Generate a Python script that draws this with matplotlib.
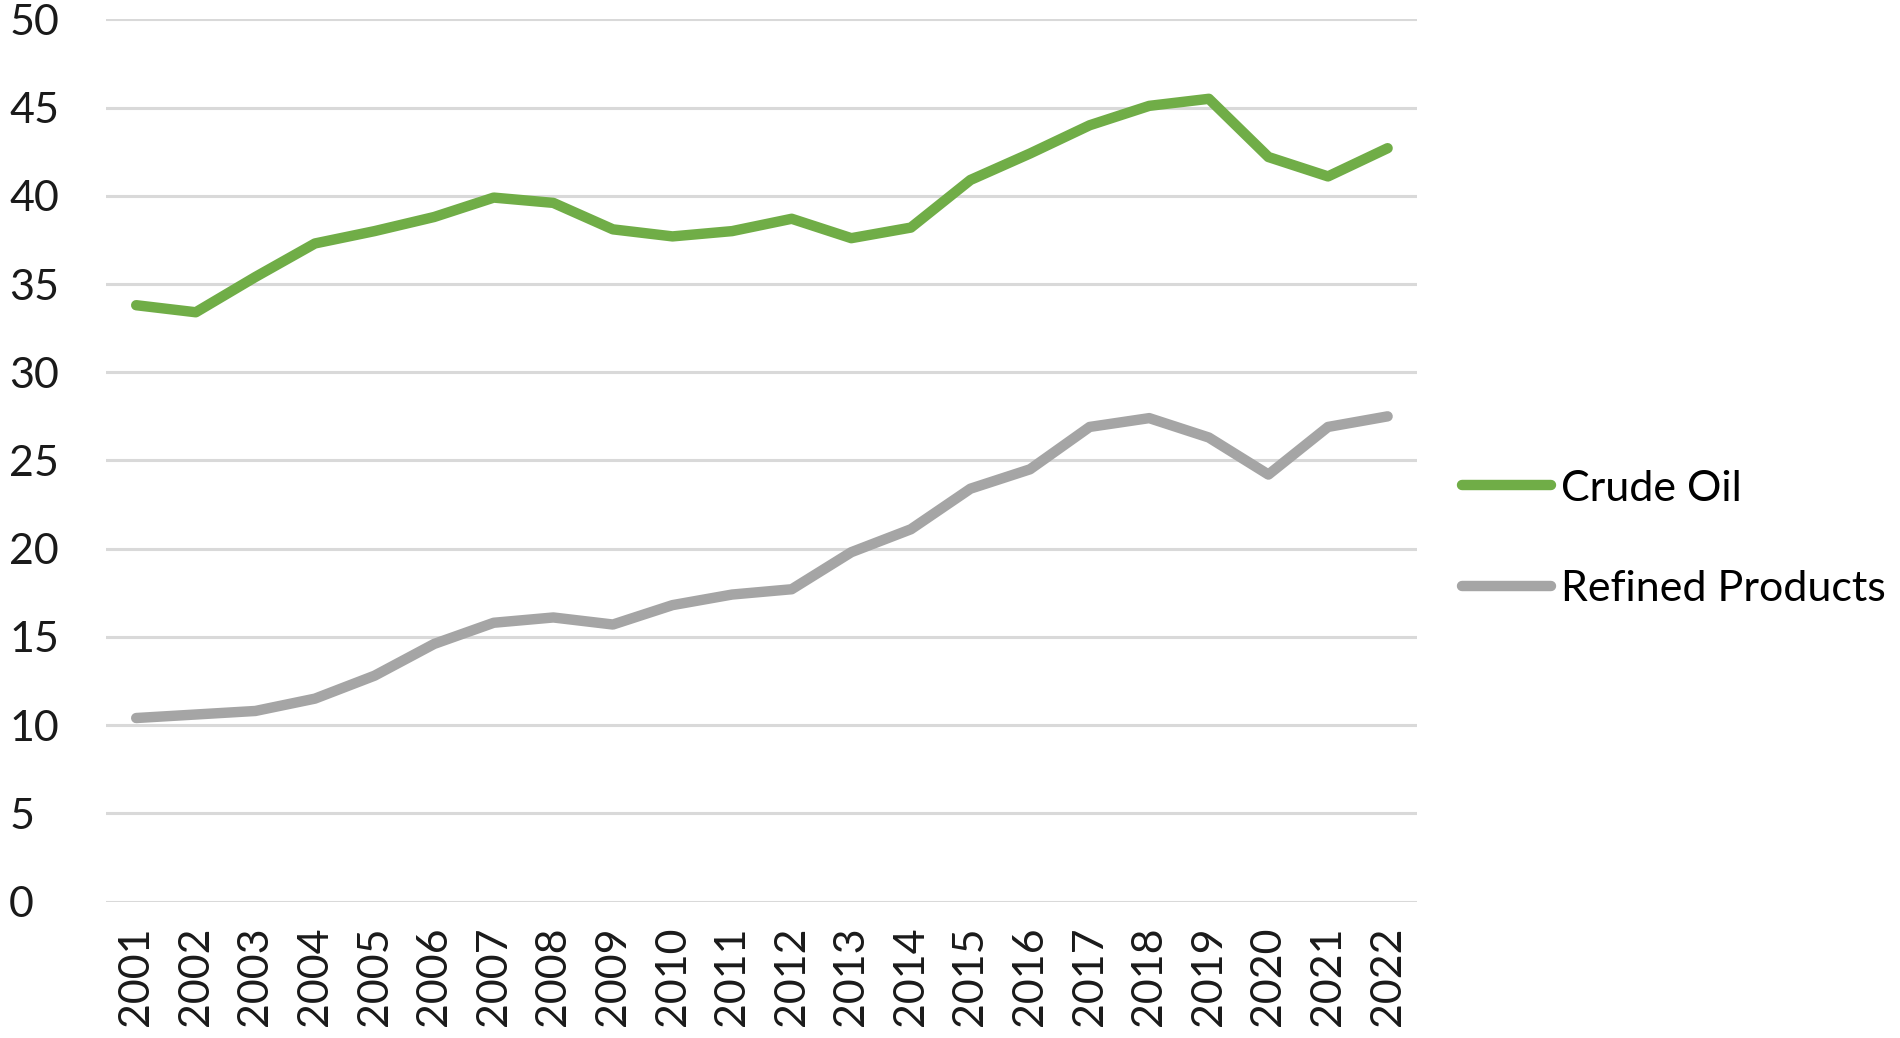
import matplotlib
matplotlib.use("Agg")
import matplotlib.pyplot as plt

years = [str(y) for y in range(2001, 2023)]
crude_oil = [33.8, 33.4, 35.4, 37.3, 38.0, 38.8, 39.9, 39.6, 38.1, 37.7, 38.0,
             38.7, 37.6, 38.2, 40.9, 42.4, 44.0, 45.1, 45.5, 42.2, 41.1, 42.7]
refined_products = [10.4, 10.6, 10.8, 11.5, 12.8, 14.6, 15.8, 16.1, 15.7, 16.8, 17.4,
                    17.7, 19.8, 21.1, 23.4, 24.5, 26.9, 27.4, 26.3, 24.2, 26.9, 27.5]
y_ticks = [0, 5, 10, 15, 20, 25, 30, 35, 40, 45, 50]

plt.rcParams['font.family'] = ['Lato', 'DejaVu Sans']

fig = plt.figure(figsize=(19, 10.38), dpi=100)
ax = fig.add_axes([0.056, 0.1315, 0.690, 0.8498])

x = list(range(len(years)))
ax.plot(x, crude_oil, color='#70AD47', lw=7.5, solid_capstyle='round',
        solid_joinstyle='round', label='Crude Oil', zorder=3)
ax.plot(x, refined_products, color='#A5A5A5', lw=7.5, solid_capstyle='round',
        solid_joinstyle='round', label='Refined Products', zorder=3)

ax.set_xlim(-0.5, len(years) - 0.5)
ax.set_ylim(0, 50)
ax.set_yticks(y_ticks)
ax.set_yticklabels([str(v) for v in y_ticks], fontsize=31, color='#1a1a1a')
ax.set_xticks(x)
ax.set_xticklabels(years, rotation=90, fontsize=31, color='#1a1a1a')
ax.tick_params(axis='both', length=0)
ax.tick_params(axis='y', pad=70)
ax.tick_params(axis='x', pad=18)
for lbl in ax.get_yticklabels():
    lbl.set_horizontalalignment('left')

ax.grid(axis='y', color='#D9D9D9', lw=2.2)
ax.set_axisbelow(True)
for s in ax.spines.values():
    s.set_visible(False)

fig.legend(loc='center left', bbox_to_anchor=(0.7696, 0.481), frameon=False,
           fontsize=31, handlelength=2.05, handletextpad=0.25, labelspacing=1.45,
           borderpad=0, borderaxespad=0)

fig.savefig('out.png', dpi=100, facecolor='white')
